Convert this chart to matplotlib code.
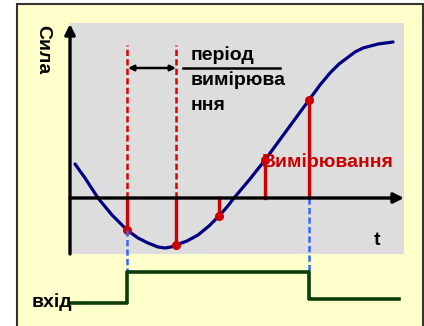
import matplotlib.pyplot as plt
from matplotlib.patches import Rectangle

# force curve (t along the time axis, f = force, 0 on the t axis)
curve_t = [5, 15, 28, 42, 57, 68, 78, 88, 95, 101, 106, 117, 128, 139, 149, 157, 164, 180, 195, 217, 239, 250, 260, 269, 277, 285, 293, 308, 323]
curve_f = [34, 20, 0, -17, -32, -40, -45, -49, -50, -49, -47, -43, -37, -28, -18, -9, 0, 19, 38, 68, 98, 113, 125, 134, 140, 146, 150, 154, 156]

# sampling moments and sampled values
sample_t = [57, 106, 149, 195, 239]
sample_f = [-32, -47, -18, 38, 98]

# input (gate) signal
step_t = [0, 57, 57, 239, 239, 329]
step_f = [-105, -105, -74, -74, -101, -101]

period_start, period_end = sample_t[0], sample_t[1]

plt.rcParams['font.family'] = ['Liberation Sans', 'DejaVu Sans']

fig = plt.figure(figsize=(4.24, 3.26), dpi=100)
ax = fig.add_axes([0, 0, 1, 1])
ax.set_xlim(-70, 354)
ax.set_ylim(-128, 198)
ax.axis('off')

# background frame and grey plot area
ax.add_patch(Rectangle((-53, -140), 406, 334, facecolor='#FFFFCC', edgecolor='#333333', lw=1.5))
ax.add_patch(Rectangle((0, -56), 334, 231, facecolor='#DDDDDD', edgecolor='none'))

# axes with arrows
ax.annotate('', xy=(0, 174), xytext=(0, -56),
            arrowprops=dict(arrowstyle='-|>', lw=2.4, color='black', mutation_scale=15, shrinkA=0, shrinkB=0))
ax.annotate('', xy=(334, 0), xytext=(0, 0),
            arrowprops=dict(arrowstyle='-|>', lw=2.4, color='black', mutation_scale=15, shrinkA=0, shrinkB=0))

# dashed red markers of the period
for t in [period_start, period_end]:
    ax.plot([t, t], [0, 153], color='#DD0000', lw=1.8, ls=(0, (2.5, 1.3)))

# curve
ax.plot(curve_t, curve_f, color='#000080', lw=2.3, solid_capstyle='round', solid_joinstyle='round')

# samples
for t, f in zip(sample_t, sample_f):
    ax.plot([t, t], [0, f], color='#CC0000', lw=2.4)
ax.plot(sample_t, sample_f, 'o', color='#CC0000', ms=5.5)

# blue dashed links to the input signal
ax.plot([sample_t[0], sample_t[0]], [sample_f[0], -74], color='#3366FF', lw=1.8, ls=(0, (2.5, 1.3)))
ax.plot([sample_t[-1], sample_t[-1]], [0, -74], color='#3366FF', lw=1.8, ls=(0, (2.5, 1.3)))

# input signal
ax.plot(step_t, step_f, color='#0B3D0B', lw=2.6)

# period arrow and label
ax.annotate('', xy=(period_end, 130), xytext=(period_start + 1, 130),
            arrowprops=dict(arrowstyle='<|-|>', lw=1.8, color='black', mutation_scale=8, shrinkA=0, shrinkB=0))
ax.plot([113, 210], [130, 130], color='black', lw=1.8)
ax.text(121, 138, 'період', fontsize=14, fontweight='bold', va='baseline')
ax.text(121, 113, 'вимірюва', fontsize=14, fontweight='bold', va='baseline')
ax.text(121, 88, 'ння', fontsize=14, fontweight='bold', va='baseline')

ax.text(192, 31, 'Вимірювання', fontsize=14, fontweight='bold', color='#CC0000', va='baseline')
ax.text(304, -47, 't', fontsize=14, fontweight='bold', va='baseline')
ax.text(-27, 148, 'Сила', fontsize=14, fontweight='bold', rotation=-90, ha='center', va='center')
ax.text(-38, -109, 'вхід', fontsize=14, fontweight='bold', va='baseline')

fig.savefig('out.png', dpi=100, facecolor='white')
